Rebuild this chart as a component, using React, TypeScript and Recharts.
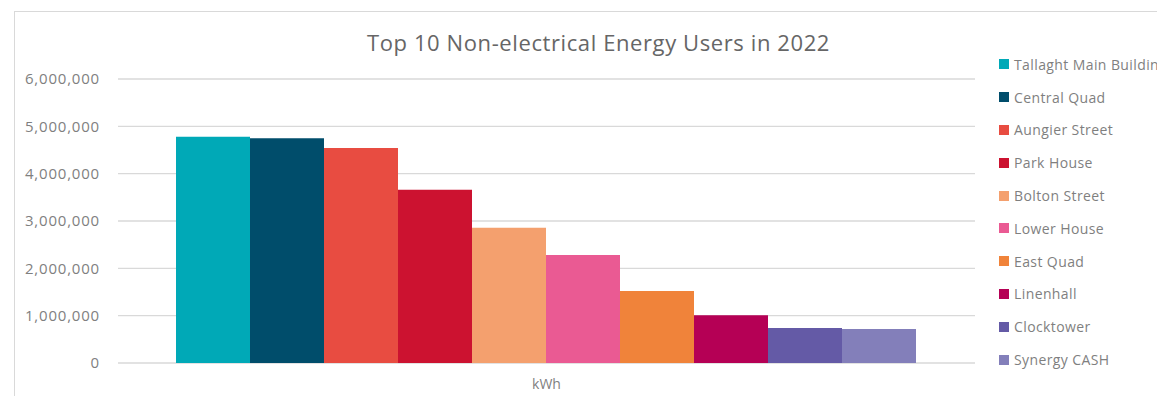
import React from 'react';
import { BarChart, Bar, XAxis, YAxis, CartesianGrid, Legend } from 'recharts';

const categories = ['kWh'];
const seriesNames = [
  'Tallaght Main Building',
  'Central Quad',
  'Aungier Street',
  'Park House',
  'Bolton Street',
  'Lower House',
  'East Quad',
  'Linenhall',
  'Clocktower',
  'Synergy CASH',
];
const seriesValues = [4780000, 4750000, 4540000, 3660000, 2860000, 2280000, 1520000, 1010000, 740000, 720000];
const seriesColors = ['#00A9B7', '#004D6B', '#E84C41', '#CC1230', '#F4A06E', '#EA5A93', '#F0833A', '#B50055', '#645AA6', '#837FBA'];
const yTicks = [0, 1000000, 2000000, 3000000, 4000000, 5000000, 6000000];
const title = 'Top 10 Non-electrical Energy Users in 2022';

const data = categories.map((c) => {
  const row: Record<string, any> = { name: c };
  seriesNames.forEach((s, i) => {
    row['s' + i] = seriesValues[i];
  });
  return row;
});

const FONT = '"Open Sans", sans-serif';

const LegendContent = () => (
  <div style={{ fontFamily: FONT }}>
    {seriesNames.map((s, i) => (
      <div key={s} style={{ display: 'flex', alignItems: 'center', height: 32.8, whiteSpace: 'nowrap' }}>
        <span style={{ display: 'inline-block', flex: '0 0 10px', width: 10, height: 10, background: seriesColors[i], marginRight: 5 }} />
        <span style={{ fontSize: 14, color: '#7f7f7f', letterSpacing: 0.4 }}>{s}</span>
      </div>
    ))}
  </div>
);

export default function App() {
  return (
    <div style={{ position: 'absolute', left: 0, top: 0, width: 1157, height: 396, overflow: 'hidden', background: '#fff' }}>
      <div style={{ position: 'absolute', left: 14, top: 11, width: 1200, height: 400, border: '1px solid #d9d9d9', boxSizing: 'border-box' }} />
      <div style={{ position: 'absolute', left: 0, top: 28, width: 1197, textAlign: 'center', fontFamily: FONT, fontSize: 22, color: '#666', letterSpacing: 0.6, lineHeight: '28px' }}>
        {title}
      </div>
      <div style={{ position: 'absolute', left: 0, top: 0 }}>
        <BarChart width={1157} height={396} data={data} margin={{ top: 79, right: 24, bottom: 3, left: 0 }} barGap={0} barCategoryGap={58}>
          <CartesianGrid horizontal vertical={false} stroke="#d9d9d9" strokeWidth={1.3} />
          <XAxis dataKey="name" axisLine={false} tickLine={false} height={30} tickMargin={10}
            tick={{ fontSize: 14, fill: '#7f7f7f', fontFamily: FONT }} />
          <YAxis width={118} domain={[0, 6000000]} ticks={yTicks} axisLine={false} tickLine={false} tickMargin={12}
            interval={0}
            tickFormatter={(v: number) => v.toLocaleString('en-US')}
            tick={{ fontSize: 15, fill: '#7f7f7f', fontFamily: FONT, letterSpacing: 0.8 }} />
          <Legend layout="vertical" align="right" verticalAlign="top" content={<LegendContent />}
            wrapperStyle={{ position: 'absolute', left: 999, top: 48, width: 158, overflow: 'visible' }} />
          {seriesNames.map((s, i) => (
            <Bar key={s} dataKey={'s' + i} name={s} fill={seriesColors[i]} isAnimationActive={false} />
          ))}
        </BarChart>
      </div>
    </div>
  );
}
